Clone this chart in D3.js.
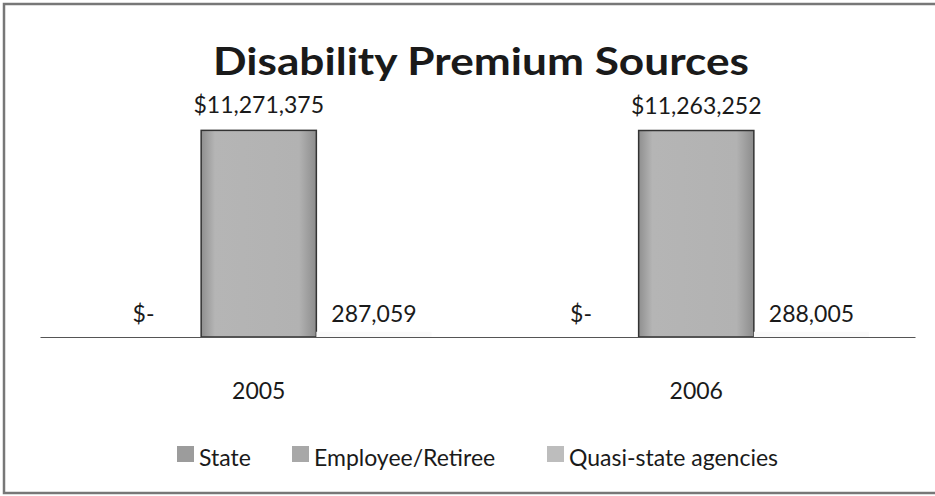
<!doctype html>
<html lang="en">
  <head>
    <meta charset="UTF-8" />
    <title>Disability Premium Sources</title>
    <script src="https://cdn.jsdelivr.net/npm/d3@7"></script>
    <style>
      body { margin: 0; background: #fff; }
      svg text { font-family: Lato, "Open Sans", sans-serif; fill: #1a1a1a; }
    </style>
  </head>
  <body>
    <div id="chart"></div>
    <script>
      const years = ['2005', '2006'];
      const seriesNames = ['State', 'Employee/Retiree', 'Quasi-state agencies'];
      const stateValues = [0, 0];
      const employeeValues = [11271375, 11263252];
      const quasiValues = [287059, 288005];

      const width = 935;
      const height = 496;
      const marginLeft = 40;
      const marginRight = 20;
      const baseline = 337;

      const series = [stateValues, employeeValues, quasiValues];
      const fills = ['#a9a9a9', '#ababab', '#fafafa'];
      const swatches = ['#9c9c9c', '#a8a8a8', '#bdbdbd'];

      const svg = d3.select('#chart').append('svg')
        .attr('width', width)
        .attr('height', height);

      // bar shading
      const defs = svg.append('defs');
      const grad = defs.append('linearGradient').attr('id', 'barGrad');
      grad.append('stop').attr('offset', '0%').attr('stop-color', '#8f8f8f');
      grad.append('stop').attr('offset', '12%').attr('stop-color', '#b5b5b5');
      grad.append('stop').attr('offset', '85%').attr('stop-color', '#b2b2b2');
      grad.append('stop').attr('offset', '100%').attr('stop-color', '#8c8c8c');

      // frame
      svg.append('rect')
        .attr('x', 4).attr('y', 4)
        .attr('width', width + 10).attr('height', 489)
        .attr('fill', 'none')
        .attr('stroke', '#777')
        .attr('stroke-width', 2.5);

      svg.append('text')
        .attr('x', 481).attr('y', 75)
        .attr('text-anchor', 'middle')
        .attr('textLength', 536)
        .attr('lengthAdjust', 'spacingAndGlyphs')
        .style('font-size', '38px')
        .style('font-weight', 'bold')
        .text('Disability Premium Sources');

      const x0 = d3.scaleBand()
        .domain(years)
        .range([marginLeft, width - marginRight])
        .paddingInner(0.21)
        .paddingOuter(0.105);

      const x1 = d3.scaleBand()
        .domain(d3.range(series.length))
        .range([0, x0.bandwidth()]);

      const y = d3.scaleLinear()
        .domain([0, 11400000])
        .range([baseline, 128]);

      const fmt = d3.format(',');
      const label = (s, v) => {
        if (v === 0) return '$-';
        return (s === 1 ? '$' : '') + fmt(v);
      };

      const groups = svg.selectAll('g.year')
        .data(years)
        .join('g')
        .attr('class', 'year')
        .attr('transform', (d) => `translate(${x0(d)},0)`);

      groups.selectAll('rect')
        .data((d, i) => series.map((s, j) => ({ s: j, v: s[i] })))
        .join('rect')
        .attr('x', (d) => x1(d.s))
        .attr('y', (d) => y(d.v))
        .attr('width', x1.bandwidth())
        .attr('height', (d) => baseline - y(d.v))
        .attr('fill', (d) => d.s === 1 ? 'url(#barGrad)' : fills[d.s])
        .attr('stroke', (d) => d.s === 1 ? '#333' : 'none')
        .attr('stroke-width', 1.5);

      groups.selectAll('text')
        .data((d, i) => series.map((s, j) => ({ s: j, v: s[i] })))
        .join('text')
        .attr('x', (d) => x1(d.s) + x1.bandwidth() / 2)
        .attr('y', (d) => d.s === 1 ? y(d.v) - 17 : baseline - 15)
        .attr('text-anchor', 'middle')
        .style('font-size', '23px')
        .text((d) => label(d.s, d.v));

      // axis line + year labels
      const xAxis = svg.append('g')
        .attr('transform', `translate(0,${baseline})`)
        .call(d3.axisBottom(x0).tickSize(0).tickPadding(46));
      xAxis.select('.domain').attr('stroke', '#555').attr('stroke-width', 1.2);
      xAxis.selectAll('text')
        .style('font-size', '23px')
        .style('font-family', 'Lato, sans-serif')
        .attr('fill', '#1a1a1a');

      // legend
      const legendX = [177, 292, 547];
      const legend = svg.append('g')
        .selectAll('g')
        .data(seriesNames)
        .join('g')
        .attr('transform', (d, i) => `translate(${legendX[i]},460)`);
      legend.append('rect')
        .attr('x', 0).attr('y', -14)
        .attr('width', 17).attr('height', 16)
        .attr('fill', (d, i) => swatches[i]);
      legend.append('text')
        .attr('x', 22).attr('y', 6)
        .style('font-size', '23px')
        .text((d) => d);
    </script>
  </body>
</html>
